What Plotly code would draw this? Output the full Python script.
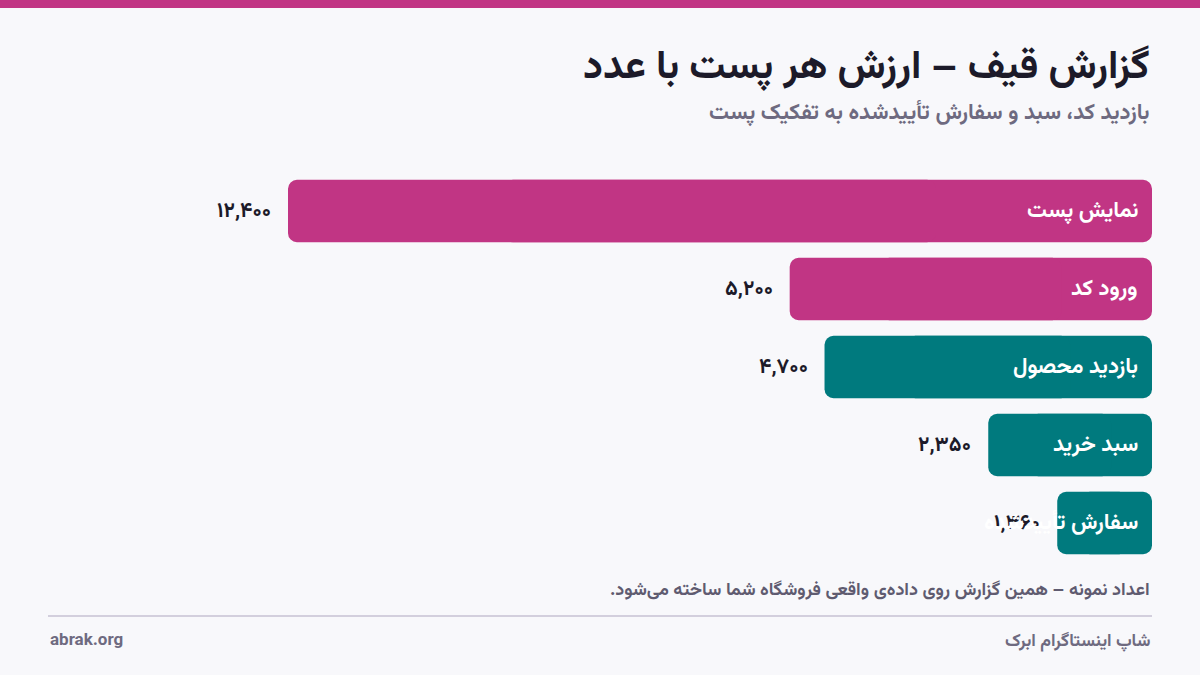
import plotly.graph_objects as go

# داده‌های قیف
stages = ["نمایش پست", "ورود کد", "بازدید محصول", "سبد خرید", "سفارش تأییدشده"]
values = [12400, 5200, 4700, 2350, 1360]
value_labels = ["۱۲,۴۰۰", "۵,۲۰۰", "۴,۷۰۰", "۲,۳۵۰", "۱,۳۶۰"]
stage_colors = ["#C13584", "#C13584", "#007A7E", "#007A7E", "#007A7E"]

title = "گزارش قیف – ارزش هر پست با عدد"
subtitle = "بازدید کد، سبد و سفارش تأییدشده به تفکیک پست"
footnote = "اعداد نمونه – همین گزارش روی داده‌ی واقعی فروشگاه شما ساخته می‌شود."
brand = "شاپ اینستاگرام ابرک"
site = "abrak.org"

FONT = "Vazirmatn, 'Noto Sans Arabic', 'DejaVu Sans', sans-serif"
RLM = "\u200f"
BG = "#F8F8FB"
W, H = 1200, 675
ML, MR, MT, MB = 48, 48, 172, 113

# بزرگترین میله از x=288 تا x=1152 کشیده می‌شود
plot_w = W - ML - MR
plot_h = H - MT - MB
x_max = max(values) * plot_w / 864


def px(x):
    return (x - ML) / plot_w


def py(y):
    return (H - MB - y) / plot_h


fig = go.Figure()
# هر میله از دو تکه‌ی هم‌پوشان ساخته می‌شود تا هر دو سر آن گرد شود
# تکه‌ی راست: از ۰ تا ۳/۴ مقدار (سر گرد در ۰)
fig.add_trace(go.Bar(
    x=[-0.75 * v for v in values], base=[0.75 * v for v in values], y=stages,
    orientation="h", hoverinfo="skip",
    marker=dict(color=stage_colors, cornerradius=9, line=dict(width=0)),
))
# تکه‌ی چپ: از ۱/۴ مقدار تا خود مقدار (سر گرد در مقدار)
fig.add_trace(go.Bar(
    x=[0.75 * v for v in values], base=[0.25 * v for v in values], y=stages,
    orientation="h", hoverinfo="skip",
    marker=dict(color=stage_colors, cornerradius=9, line=dict(width=0)),
))

annotations = []
# برچسب عددی کنار میله
for s, v, lab in zip(stages, values, value_labels):
    annotations.append(dict(
        x=v, y=s, xref="x", yref="y", text=f"<b>{lab}</b>",
        xanchor="right", xshift=-15, showarrow=False,
        font=dict(family=FONT, size=21, color="#1C1A29"),
    ))
# نام مرحله داخل میله (روی برچسب عددی کشیده می‌شود)
for s in stages:
    annotations.append(dict(
        x=0, y=s, xref="x", yref="y", text=f"<b>{s}</b>",
        xanchor="right", xshift=-12, showarrow=False,
        font=dict(family=FONT, size=22, color="#FFFFFF"),
    ))

annotations += [
    dict(x=px(1152), y=py(68), xref="paper", yref="paper", text=f"<b>{title}</b>",
         xanchor="right", yanchor="middle", showarrow=False,
         font=dict(family=FONT, size=40, color="#1C1A29")),
    dict(x=px(1152), y=py(113), xref="paper", yref="paper", text=f"<b>{subtitle}</b>",
         xanchor="right", yanchor="middle", showarrow=False,
         font=dict(family=FONT, size=22, color="#6E6A80")),
    dict(x=px(1152), y=py(591), xref="paper", yref="paper", text=f"<b>{footnote}{RLM}</b>",
         xanchor="right", yanchor="middle", showarrow=False,
         font=dict(family=FONT, size=18, color="#5F5B70")),
    dict(x=px(1152), y=py(641), xref="paper", yref="paper", text=f"<b>{brand}</b>",
         xanchor="right", yanchor="middle", showarrow=False,
         font=dict(family=FONT, size=17.5, color="#6E6A80")),
    dict(x=px(48), y=py(641), xref="paper", yref="paper", text=f"<b>{site}</b>",
         xanchor="left", yanchor="middle", showarrow=False,
         font=dict(family=FONT, size=17, color="#6E6A80")),
]

shapes = [
    dict(type="rect", xref="paper", yref="paper", x0=px(0), x1=px(W), y0=py(8), y1=py(0),
         fillcolor="#C13584", line=dict(width=0), layer="above"),
    dict(type="line", xref="paper", yref="paper", x0=px(48), x1=px(1152),
         y0=py(616), y1=py(616), line=dict(color="#D3CFDD", width=2)),
]

fig.update_layout(
    width=W, height=H,
    margin=dict(l=ML, r=MR, t=MT, b=MB),
    paper_bgcolor=BG, plot_bgcolor=BG,
    showlegend=False,
    barmode="overlay",
    bargap=0.2,
    xaxis=dict(range=[x_max, 0], visible=False, fixedrange=True),
    yaxis=dict(autorange="reversed", visible=False, fixedrange=True),
    annotations=annotations,
    shapes=shapes,
)

fig.write_html("out.html", config={"displayModeBar": False},
               post_script="document.body.style.margin='0';")
